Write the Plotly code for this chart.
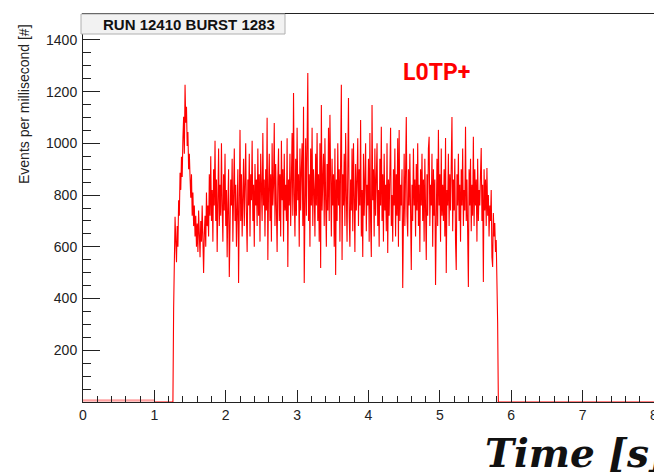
import numpy as np
import plotly.graph_objects as go

# ---------------- data ----------------
BASE_T = [0.0, 1.0]          # pre-burst pedestal (s)
BASE_V = [8, 8]              # events / ms

BIN_START = 1.26             # s
BIN_WIDTH = 0.01             # s

rate = [
    0, 360, 560, 716, 620, 540, 680, 600, 780, 720,
    886, 820, 948, 870, 1020, 1103, 960, 1226, 1080, 1141,
    990, 1044, 900, 960, 870, 790, 880, 720, 810, 680,
    760, 640, 720, 600, 690, 580, 740, 630, 560, 700,
    620, 760, 540, 499, 650, 720, 600, 810, 680, 760,
    640, 880, 720, 950, 700, 820, 620, 900, 760, 1010,
    700, 860, 580, 780, 980, 680, 840, 720, 1000, 760,
    620, 880, 740, 960, 680, 820, 560, 760, 900, 483,
    700, 860, 760, 940, 620, 800, 980, 700, 840, 600,
    760, 900, 460, 820, 1052, 700, 880, 640, 760, 940,
    680, 820, 1000, 720, 580, 860, 760, 960, 640, 880,
    780, 1010, 700, 840, 600, 920, 760, 860, 680, 980,
    720, 880, 620, 960, 800, 700, 1040, 760, 860, 640,
    900, 740, 1099, 549, 820, 960, 700, 880, 620, 1000,
    760, 840, 1079, 680, 920, 740, 580, 860, 980, 700,
    880, 640, 1010, 780, 900, 620, 960, 740, 840, 700,
    1020, 522, 860, 760, 960, 680, 900, 1040, 720, 1195,
    800, 640, 940, 720, 1060, 780, 880, 600, 980, 740,
    900, 1000, 680, 1141, 460, 860, 1020, 720, 940, 1272,
    700, 880, 600, 980, 760, 1060, 680, 900, 820, 640,
    960, 760, 1040, 700, 880, 620, 1000, 518, 1148, 740,
    860, 960, 680, 1020, 780, 600, 920, 740, 1060, 700,
    1110, 820, 640, 940, 760, 880, 600, 980, 491, 860,
    700, 1000, 760, 900, 620, 940, 1226, 549, 880, 760,
    960, 680, 1040, 800, 620, 900, 1175, 720, 600, 860,
    740, 980, 660, 1000, 800, 580, 920, 740, 860, 1020,
    680, 900, 760, 1090, 640, 820, 561, 960, 720, 880,
    1000, 660, 840, 760, 940, 620, 1040, 700, 561, 1148,
    780, 900, 640, 980, 720, 860, 1000, 680, 820, 600,
    940, 760, 1064, 700, 880, 620, 960, 740, 840, 660,
    1000, 576, 860, 720, 940, 1060, 680, 800, 620, 900,
    760, 980, 640, 880, 720, 1020, 600, 1052, 700, 840,
    760, 900, 441, 820, 960, 680, 880, 1102, 720, 640,
    900, 760, 960, 620, 510, 840, 700, 980, 760, 860,
    640, 920, 740, 1000, 680, 840, 580, 900, 760, 960,
    700, 860, 620, 940, 760, 549, 880, 720, 980, 1025,
    680, 840, 760, 960, 600, 900, 720, 860, 452, 780,
    940, 680, 1052, 760, 880, 620, 980, 720, 840, 700,
    900, 640, 1021, 499, 820, 760, 960, 680, 880, 740,
    1000, 1102, 660, 860, 740, 940, 620, 510, 880, 760,
    960, 700, 840, 620, 900, 760, 980, 680, 820, 740,
    1064, 700, 860, 580, 445, 900, 760, 940, 660, 840,
    720, 1025, 680, 900, 760, 860, 620, 940, 700, 820,
    760, 880, 982, 700, 840, 464, 900, 740, 860, 680,
    905, 720, 800, 640, 760, 700, 820, 560, 522, 731,
    640, 692, 580, 626, 499, 305,
    0,
]

X_END = 8.0
x_tickvals = [0, 1, 2, 3, 4, 5, 6, 7, 8]
y_tickvals = [200, 400, 600, 800, 1000, 1200, 1400]
Y_MAX = 1500

TITLE_BOX = "RUN 12410 BURST 1283"
LABEL = "L0TP+"
X_TITLE = "Time [s]"
Y_TITLE = "Events per millisecond [#]"

# ---------------- figure ----------------
t = BIN_START + BIN_WIDTH * np.arange(len(rate))
x_full = [BASE_T[-1]] + list(t) + [X_END]
y_full = [0] + list(rate) + [0]

W, H = 654, 476
L, R, T, B = 83, 0, 14, 74
pw, ph = W - L - R, H - T - B

def px(x):  # pixel x -> paper
    return (x - L) / pw

def py(y):  # pixel y -> paper
    return (H - B - y) / ph

fig = go.Figure()
fig.add_trace(go.Scatter(
    x=BASE_T, y=BASE_V, mode="lines",
    line=dict(color="rgba(255,0,0,0.45)", width=1),
    fill="tozeroy", fillcolor="rgba(255,90,90,0.35)",
    hoverinfo="skip", showlegend=False))
fig.add_trace(go.Scatter(
    x=x_full, y=y_full, mode="lines",
    line=dict(color="#ff0000", width=1.1),
    showlegend=False))

axis_font = dict(family="Liberation Sans, Arial, sans-serif", size=14, color="#222")

fig.update_xaxes(
    range=[0, X_END + 0.001], tickvals=x_tickvals, ticktext=[str(v) for v in x_tickvals],
    ticks="inside", ticklen=12, tickcolor="#222", tickwidth=1,
    minor=dict(ticks="inside", ticklen=6, dtick=0.2, tick0=0, tickcolor="#222"),
    showline=True, linecolor="#222", linewidth=1, mirror=True,
    showgrid=False, zeroline=False, tickfont=axis_font, automargin=False,
    ticklabeloverflow="allow")
fig.update_yaxes(
    range=[0, Y_MAX], tickvals=y_tickvals, ticktext=[str(v) for v in y_tickvals],
    ticks="inside", ticklen=17, tickcolor="#222", tickwidth=1,
    minor=dict(ticks="inside", ticklen=8, dtick=50, tick0=0, tickcolor="#222"),
    showline=True, linecolor="#222", linewidth=1,
    showgrid=False, zeroline=False, tickfont=axis_font, automargin=False,
    ticklabelstandoff=2)

fig.add_shape(type="rect", xref="paper", yref="paper",
              x0=px(81), x1=px(285), y0=py(34), y1=py(14),
              fillcolor="#f2f2f2", line=dict(color="#b0b0b0", width=1),
              layer="above")

fig.add_annotation(text=f"<b>{TITLE_BOX}</b>", xref="paper", yref="paper",
                   x=px(189), y=py(24), xanchor="center", yanchor="middle",
                   showarrow=False,
                   font=dict(family="Liberation Sans, Arial, sans-serif", size=15, color="#111"))

fig.add_annotation(text=LABEL, xref="paper", yref="paper",
                   x=px(436), y=py(72), xanchor="center", yanchor="middle",
                   showarrow=False,
                   font=dict(family="Roboto", size=23, color="#ff0000", weight="bold"))

fig.add_annotation(text=Y_TITLE, xref="paper", yref="paper",
                   x=px(24), y=py(104), xanchor="center", yanchor="middle",
                   textangle=-90, showarrow=False,
                   font=dict(family="Liberation Sans, Arial, sans-serif", size=14, color="#222"))

fig.add_annotation(text=X_TITLE, xref="paper", yref="paper",
                   x=px(483), y=py(453), xanchor="left", yanchor="middle",
                   showarrow=False,
                   font=dict(family="DejaVu Serif, serif", size=39, color="#111",
                             weight="bold", style="italic"))

fig.update_layout(
    width=W, height=H,
    margin=dict(l=L, r=R, t=T, b=B, pad=0),
    paper_bgcolor="white", plot_bgcolor="white",
    showlegend=False,
)

fig.write_html("out.html")
